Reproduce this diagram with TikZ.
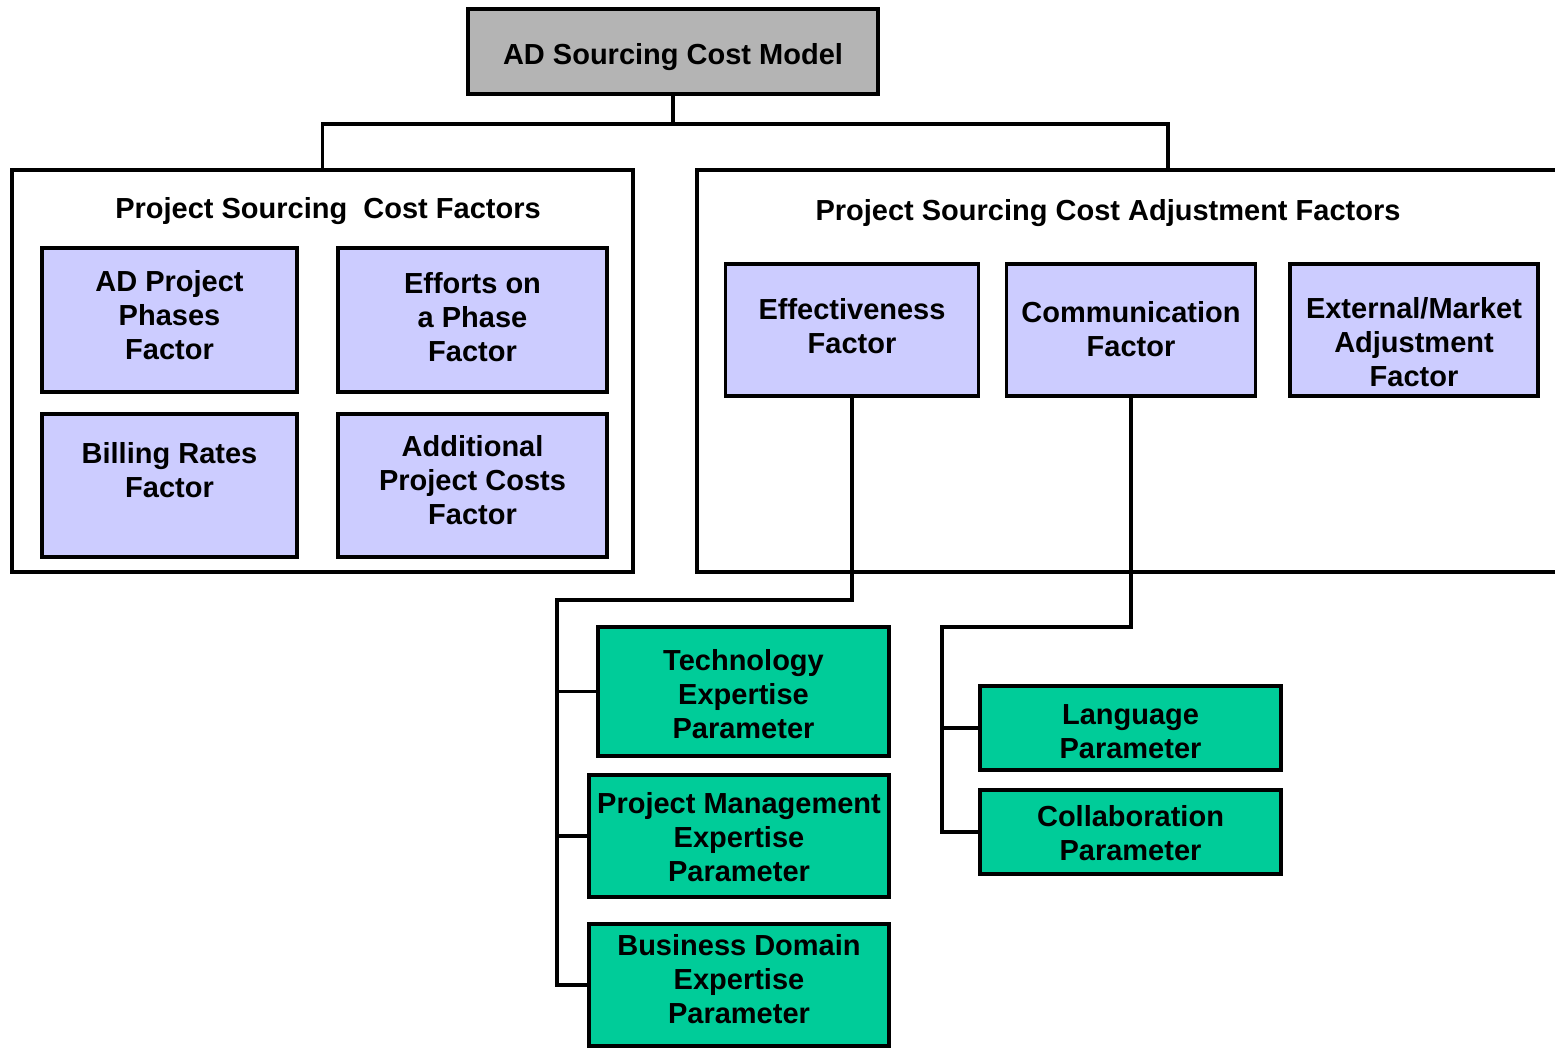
\documentclass[tikz,border=0pt]{standalone}
\usepackage{fontspec}
\setmainfont{Liberation Sans}
\definecolor{topgray}{HTML}{B4B4B4}
\definecolor{lav}{HTML}{CCCCFF}
\definecolor{grn}{HTML}{00CC99}
% #1: upward shift of the text block (pt), #2: lines
\newcommand\boxtxt[2]{\raisebox{\dimexpr#1pt-10.85pt\relax}[0pt][0pt]{\begin{tabular}{@{}c@{}}#2\end{tabular}}}
\tikzset{
  bx/.style={draw=black, line width=3.8pt, rectangle, inner sep=0pt,
    font=\fontsize{29}{34}\selectfont\bfseries},
  lavbox/.style={bx, fill=lav},
  grnbox/.style={bx, fill=grn},
  conn/.style={draw=black, line width=3.8pt},
  ttl/.style={font=\fontsize{29}{34}\selectfont\bfseries, inner sep=0pt}
}
\begin{document}
\begin{tikzpicture}[x=1pt,y=-1pt]
\useasboundingbox (0,0) rectangle (1555,1049);
\fill[white] (0,0) rectangle (1555,1049);
% top
\node[bx, fill=topgray, minimum width=410, minimum height=85] (top) at (673,51.5) {\boxtxt{-1.5}{AD Sourcing Cost Model}};
% left panel
\node[draw=black, line width=3.8pt, minimum width=621, minimum height=402, inner sep=0pt] (lp) at (322.5,371) {};
\node[ttl] (lpt) at (328,211) {Project Sourcing\ \ Cost Factors};
% right panel
\coordinate (rp) at (1168,170);
\draw[conn] (1565,170) -- (697,170) -- (697,572) -- (1565,572);
\node[ttl] (rpt) at (1108,213) {Project Sourcing Cost Adjustment Factors};
% left boxes
\node[lavbox, minimum width=255, minimum height=144] (adp) at (169.5,320) {\boxtxt{5.5}{AD Project\\Phases\\Factor}};
\node[lavbox, minimum width=269, minimum height=144] (eff1) at (472.5,320) {\boxtxt{4}{Efforts on\\a Phase\\Factor}};
\node[lavbox, minimum width=255, minimum height=143] (bill) at (169.5,485.5) {\boxtxt{16.5}{Billing Rates\\Factor}};
\node[lavbox, minimum width=269, minimum height=143] (add) at (472.5,485.5) {\boxtxt{6.5}{Additional\\Project Costs\\Factor}};
% right boxes
\node[lavbox, minimum width=253, minimum height=132] (eff) at (852,330) {\boxtxt{4.5}{Effectiveness\\Factor}};
\node[lavbox, minimum width=249, minimum height=132] (comm) at (1131,330) {\boxtxt{2}{Communication\\Factor}};
\node[lavbox, minimum width=248, minimum height=132] (ext) at (1414,330) {\boxtxt{-11}{External/Market\\Adjustment\\Factor}};
% green boxes
\node[grnbox, minimum width=291, minimum height=129] (tech) at (743.5,691.5) {\boxtxt{-2}{Technology\\Expertise\\Parameter}};
\node[grnbox, minimum width=300, minimum height=122] (pm) at (739,836) {\boxtxt{-0.5}{Project Management\\Expertise\\Parameter}};
\node[grnbox, minimum width=300, minimum height=122] (bd) at (739,985) {\boxtxt{7}{Business Domain\\Expertise\\Parameter}};
\node[grnbox, minimum width=301, minimum height=84] (lang) at (1130.5,728) {\boxtxt{-2}{Language\\Parameter}};
\node[grnbox, minimum width=301, minimum height=84] (coll) at (1130.5,832) {\boxtxt{-0.5}{Collaboration\\Parameter}};
% connectors
\coordinate (j) at (673,124);
\draw[conn] (top.south) -- (j);
\draw[conn] (lp.north) |- (j) -| (rp);
\coordinate (e1) at (557,600);
\draw[conn] (eff.south) |- (e1) |- (bd.west);
\draw[conn] (tech.west) -- (tech.west -| e1);
\draw[conn] (pm.west) -- (pm.west -| e1);
\coordinate (c1) at (942,627);
\draw[conn] (comm.south) |- (c1) |- (coll.west);
\draw[conn] (lang.west) -- (lang.west -| c1);
\end{tikzpicture}
\end{document}
